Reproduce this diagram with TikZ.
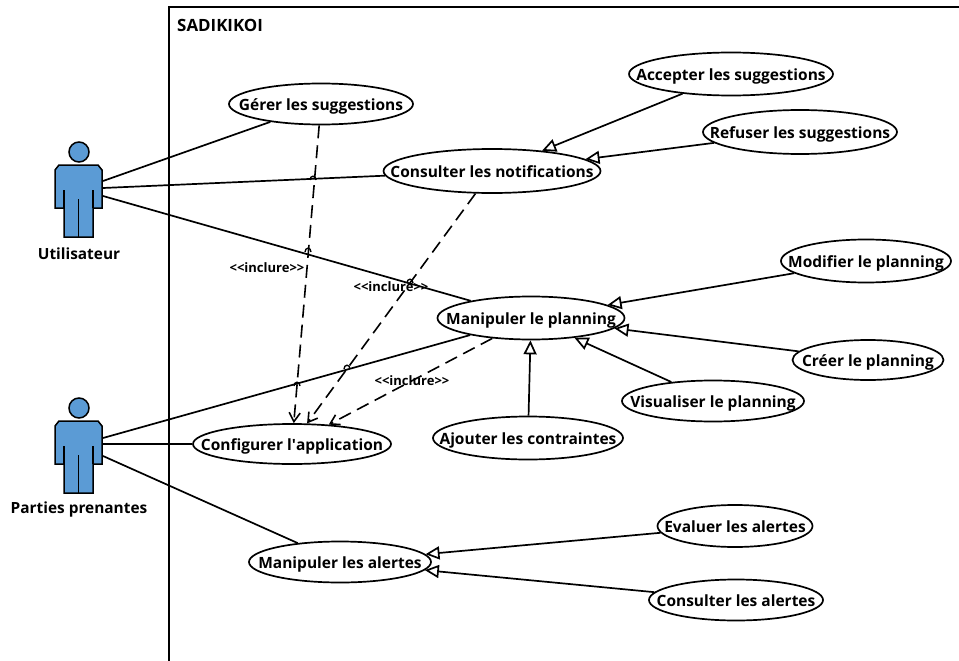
\documentclass[tikz,border=0pt]{standalone}
\usepackage{fontspec}
\setmainfont{Open Sans}
\usetikzlibrary{arrows.meta, shapes.geometric}

\tikzset{
    usecase/.style={draw, ellipse, line width=1.7pt, inner xsep=-40pt, inner ysep=0pt, text height=13pt, text depth=0pt, font=\fontsize{15.5}{17}\selectfont\bfseries, text=black},
    actorname/.style={font=\fontsize{15.4}{17}\selectfont\bfseries, inner sep=0pt},
    stereotype/.style={font=\fontsize{13}{15}\selectfont\bfseries, inner sep=0pt},
    assoc/.style={line width=1.7pt},
    generalise/.style={line width=1.7pt, -{Triangle[open, length=14pt, width=13pt]}},
    includes/.style={line width=1.6pt, dash pattern=on 13pt off 7pt, -{Straight Barb[length=9pt, width=11pt]}},
    hop/.style={line width=1.4pt}
}

\definecolor{actorblue}{HTML}{5B9BD5}

% one actor, #1 = vertical offset
\newcommand{\actorfig}[1]{
    \begin{scope}[shift={(0,#1)}, line width=1.5pt, line join=miter]
        \filldraw[fill=actorblue] (79,152) circle (10);
        \filldraw[fill=actorblue] (59,165) -- (98,165) -- (102,170) -- (102,208) -- (93,208) -- (93,237)
            -- (64,237) -- (64,208) -- (55,208) -- (55,170) -- cycle;
        \draw (64,190) -- (64,208);
        \draw (93,190) -- (93,208);
        \draw (78.5,199) -- (78.5,237);
    \end{scope}
}

\begin{document}
\begin{tikzpicture}[x=1pt, y=-1pt]
    \useasboundingbox (0,0) rectangle (959,661);

    % System frame
    \draw[line width=1.8pt] (169,661) -- (169,7) -- (959,7);
    \node[actorname, font=\fontsize{16.9}{18}\selectfont\bfseries, anchor=west] (sadikikoi) at (177,25) {SADIKIKOI};

    % Actors
    \actorfig{0}
    \actorfig{256}
    \node[actorname] (utilisateur) at (79,254) {Utilisateur};
    \node[actorname] (parties) at (79,509) {Parties prenantes};
    \coordinate (userA) at (103,181);
    \coordinate (userB) at (103,188);
    \coordinate (userC) at (103,196);
    \coordinate (partiesA) at (103,438);
    \coordinate (partiesB) at (103,444);
    \coordinate (partiesC) at (103,456);

    % Use cases
    \node[usecase, minimum width=184, minimum height=41] (gerer) at (321,104) {Gérer les suggestions};
    \node[usecase, minimum width=204, minimum height=43] (accepter) at (731,74) {Accepter les suggestions};
    \node[usecase, minimum width=194, minimum height=44] (refuser) at (800,132) {Refuser les suggestions};
    \node[usecase, minimum width=217, minimum height=44] (notifs) at (492,171) {Consulter les notifications};
    \node[usecase, minimum width=170, minimum height=43] (modifier) at (866,261) {Modifier le planning};
    \node[usecase, minimum width=187, minimum height=43] (planning) at (531,318) {Manipuler le planning};
    \node[usecase, minimum width=151, minimum height=40] (creer) at (868,360) {Créer le planning};
    \node[usecase, minimum width=182, minimum height=41] (visualiser) at (713,401) {Visualiser le planning};
    \node[usecase, minimum width=190, minimum height=43] (ajouter) at (528,438) {Ajouter les contraintes};
    \node[usecase, minimum width=198, minimum height=40] (configurer) at (292,444) {Configurer l\textquotesingle application};
    \node[usecase, minimum width=155, minimum height=42] (evaluer) at (735,526) {Evaluer les alertes};
    \node[usecase, minimum width=182, minimum height=41] (alertes) at (340,562) {Manipuler les alertes};
    \node[usecase, minimum width=174, minimum height=41] (consulter) at (736,600) {Consulter les alertes};

    % Associations
    \draw[assoc] (userA) -- (gerer);
    \draw[assoc] (userB) -- (notifs);
    \draw[assoc] (userC) -- (planning);
    \draw[assoc] (partiesA) -- (planning);
    \draw[assoc] (partiesB) -- (configurer);
    \draw[assoc] (partiesC) -- (alertes);

    % Generalisations
    \draw[generalise] (accepter) -- (notifs);
    \draw[generalise] (refuser) -- (notifs);
    \draw[generalise] (modifier) -- (planning);
    \draw[generalise] (creer) -- (planning);
    \draw[generalise] (visualiser) -- (planning);
    \draw[generalise] (ajouter) -- (planning);
    \draw[generalise] (evaluer) -- (alertes);
    \draw[generalise] (consulter) -- (alertes);

    % Includes
    \draw[includes] (gerer) -- (configurer);
    \draw[includes] (notifs) -- (configurer);
    \draw[includes] (planning) -- (configurer);
    \node[stereotype] (inclureA) at (267,268) {<{}<inclure>{}>};
    \node[stereotype] (inclureB) at (391,287) {<{}<inclure>{}>};
    \node[stereotype] (inclureC) at (412,381) {<{}<inclure>{}>};

    % Line hops
    \foreach \hx/\hy in {313/180, 308/252, 297/386, 410/283, 347/369}
        \draw[hop] ({\hx-3},\hy) .. controls ({\hx-3},{\hy-5}) and ({\hx+3},{\hy-5}) .. ({\hx+3},\hy);
\end{tikzpicture}
\end{document}
